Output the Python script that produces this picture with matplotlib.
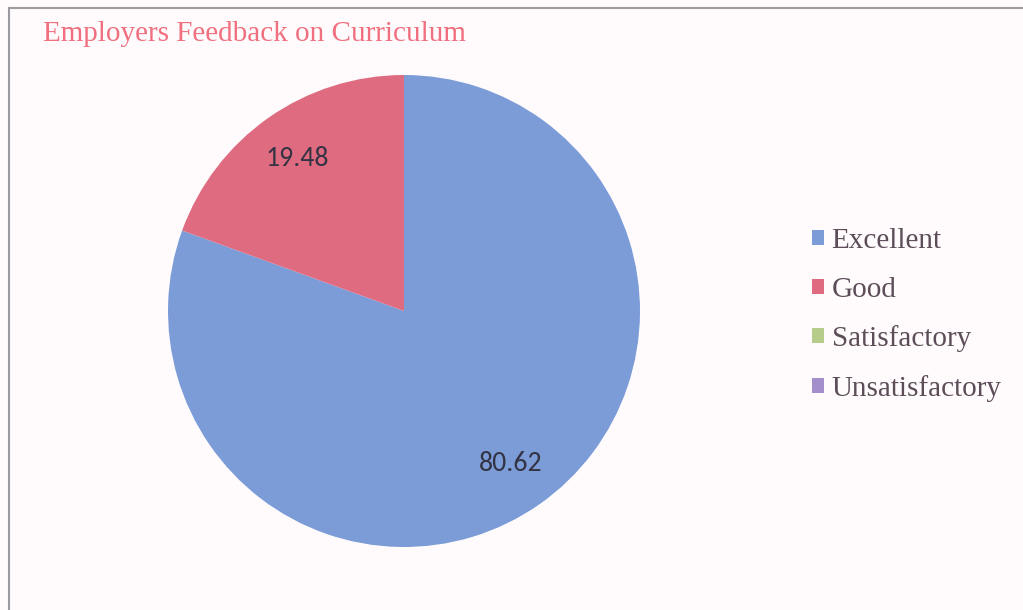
import matplotlib
matplotlib.use('Agg')
import matplotlib.pyplot as plt
from matplotlib.lines import Line2D

# data
categories = ['Excellent', 'Good', 'Satisfactory', 'Unsatisfactory']
values = [80.62, 19.48, 0, 0]
colors = ['#7c9cd8', '#df6b80', '#b5cc8a', '#a48fcc']
total = sum(values)

fig = plt.figure(figsize=(10.23, 6.10), dpi=100)
fig.patch.set_facecolor('#fffbfd')

# frame lines (left and top) like the original chart border
fig.add_artist(Line2D([9 / 1023, 9 / 1023], [0, 1 - 8 / 610], color='#9a9aa0', lw=1.5))
fig.add_artist(Line2D([9 / 1023, 1], [1 - 8 / 610, 1 - 8 / 610], color='#9a9aa0', lw=1.5))

# pie axes: centre (404, 311) px, radius 236 px
cx, cy, r = 404, 311, 236
ax = fig.add_axes([(cx - r) / 1023, (610 - cy - r) / 610, 2 * r / 1023, 2 * r / 610])


def fmt(p):
    v = p * total / 100
    return '' if v == 0 else f'{v:.2f}'


wedges, texts, autotexts = ax.pie(values, colors=colors, startangle=90, counterclock=False,
                                  autopct=fmt, pctdistance=0.79,
                                  wedgeprops=dict(edgecolor='none'),
                                  textprops=dict(fontsize=20, color='#333344', family='Carlito'))
ax.set_aspect('equal')
ax.set_xlim(-1, 1)
ax.set_ylim(-1, 1)

fig.text(43 / 1023, 1 - 34 / 610, 'Employers Feedback on Curriculum', fontsize=21,
         family='Liberation Serif', color='#f0707f', va='center', ha='left')

fig.legend(wedges, categories, loc='center left', bbox_to_anchor=(812 / 1023, 1 - 315 / 610),
           frameon=False, handlelength=0.42, handleheight=0.42, handletextpad=0.25,
           labelspacing=0.77, borderpad=0, borderaxespad=0,
           prop=dict(family='Liberation Serif', size=21), labelcolor='#5c4d58')

fig.savefig('out.png', dpi=100, facecolor=fig.get_facecolor())
